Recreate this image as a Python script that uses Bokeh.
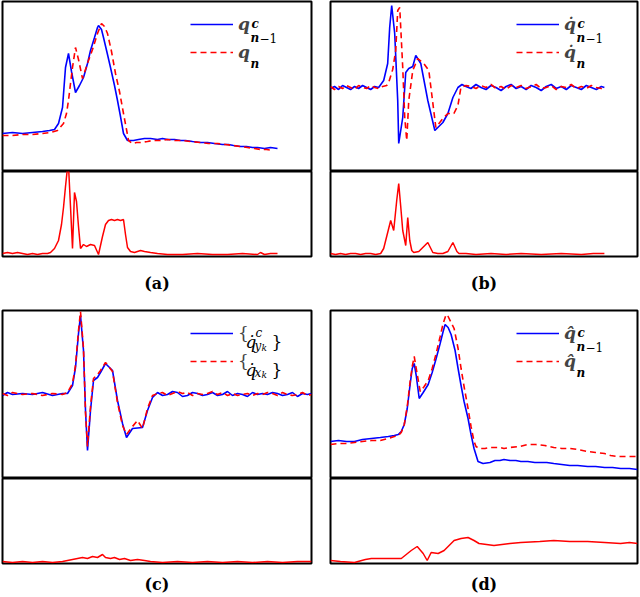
from bokeh.plotting import figure
from bokeh.layouts import row, column
from bokeh.models import Legend, LegendItem, Label, FixedTicker, Range1d
from bokeh.embed import file_html
from bokeh.resources import INLINE

# ---------------- data ----------------
# panel (a): positions q^c_{n-1} (blue) vs q_n (red), error below
a_blue_x = [0, 10, 20, 30, 40, 47, 52, 56, 60, 63, 66, 69, 73, 77, 81, 85, 88, 92, 95, 96, 99, 101, 105, 108, 112,
            115, 118, 121, 125, 131, 136, 142, 148, 155, 160, 165, 172, 178, 183, 190, 198, 205, 212, 220, 226, 231,
            238, 244, 250, 255, 262, 268, 275]
a_blue_y = [38, 39, 38, 39, 40, 41, 42, 48, 64, 104, 118, 100, 79, 86, 94, 108, 121, 134, 144, 146, 142, 134, 117, 104,
            86, 71, 55, 38, 31, 31, 32, 33, 33, 32, 33, 32, 32, 31, 31, 30, 29, 29, 28, 27, 27, 26, 25, 25, 24, 24, 23,
            24, 23]
a_red_x = [0, 10, 20, 30, 40, 48, 55, 61, 64, 66, 68, 70, 73, 76, 80, 83, 86, 90, 95, 99, 102, 105, 109, 113, 117, 121,
           124, 126, 130, 134, 138, 145, 150, 158, 165, 172, 180, 188, 198, 206, 215, 223, 231, 238, 245, 252, 258, 264,
           271]
a_red_y = [36, 36, 37, 37, 38, 39, 41, 48, 58, 71, 88, 104, 124, 112, 93, 102, 111, 122, 138, 148, 145, 138, 120, 98, 80,
           58, 42, 31, 28, 29, 29, 30, 31, 31, 32, 31, 31, 30, 29, 28, 28, 27, 26, 25, 24, 23, 22, 22, 21]
a_err_x = [0, 5, 10, 15, 20, 25, 30, 35, 40, 45, 48, 52, 56, 59, 61, 63, 65, 66, 68, 70, 72, 74, 76, 78, 81, 84, 88, 92,
           96, 100, 103, 106, 109, 112, 115, 118, 121, 123, 125, 128, 132, 138, 142, 148, 155, 165, 180, 195, 210, 225,
           240, 255, 258, 262, 268, 275]
a_err_y = [3, 4, 3, 4, 3, 2, 3, 2, 3, 3, 4, 8, 16, 32, 49, 70, 89, 91, 50, 8, 64, 55, 30, 8, 12, 10, 12, 11, 2, 20, 32,
           36, 37, 36, 37, 36, 37, 22, 9, 5, 4, 6, 5, 4, 3, 2, 2, 3, 2, 2, 3, 2, 4, 2, 3, 3]

# panel (b): velocities
b_blue_x = [0, 4, 8, 12, 16, 20, 24, 28, 32, 36, 40, 44, 48, 53, 57, 59, 61, 64, 67, 68, 72, 75, 78, 82, 85, 90, 97, 104,
            112, 117, 122, 127, 131, 135, 140, 145, 150, 155, 160, 165, 170, 175, 180, 185, 190, 195, 200, 205, 210,
            215, 220, 225, 230, 235, 240, 245, 250, 255, 260, 265, 270, 273]
b_blue_y = [83, 85, 82, 86, 84, 82, 85, 83, 86, 84, 82, 85, 84, 91, 108, 144, 166, 138, 71, 28, 54, 99, 103, 105, 116,
            108, 71, 41, 49, 58, 74, 84, 87, 85, 83, 87, 84, 82, 86, 84, 81, 85, 87, 83, 85, 82, 86, 84, 81, 85, 87, 83,
            85, 82, 86, 84, 82, 86, 84, 82, 85, 84]
b_red_x = [0, 4, 8, 12, 16, 20, 24, 28, 32, 36, 40, 44, 48, 52, 56, 58, 62, 65, 67, 69, 72, 74, 76, 78, 82, 87, 93, 98,
           105, 112, 117, 123, 127, 130, 135, 140, 145, 150, 155, 160, 165, 170, 175, 180, 185, 190, 195, 200, 205, 210,
           215, 220, 225, 230, 235, 240, 245, 250, 255, 260, 265, 270, 273]
b_red_y = [85, 82, 85, 83, 86, 84, 82, 86, 84, 83, 86, 84, 83, 85, 86, 89, 102, 121, 161, 164, 104, 54, 31, 71, 101, 113,
           108, 101, 44, 53, 58, 58, 66, 84, 86, 85, 83, 86, 84, 87, 83, 85, 82, 86, 84, 86, 83, 85, 87, 83, 84, 86, 82,
           85, 84, 87, 83, 85, 83, 86, 84, 83, 85]
b_err_x = [0, 5, 10, 15, 20, 25, 30, 35, 40, 45, 50, 53, 55, 58, 60, 63, 66, 68, 70, 72, 75, 77, 79, 81, 83, 88, 92, 97,
           102, 107, 112, 117, 122, 126, 128, 135, 145, 160, 175, 190, 210, 230, 250, 262, 273]
b_err_y = [3, 2, 3, 2, 3, 3, 2, 3, 3, 2, 3, 8, 16, 28, 36, 26, 56, 73, 50, 26, 11, 39, 16, 6, 4, 5, 9, 14, 4, 3, 3, 5,
           14, 5, 3, 3, 2, 3, 2, 3, 2, 3, 2, 3, 3]

# panel (c): velocity sequences
c_blue_x = [0, 5, 10, 20, 30, 40, 50, 60, 65, 70, 73, 76, 78, 81, 83, 85, 88, 91, 95, 98, 103, 110, 115, 120, 124, 130,
            140, 145, 150, 155, 160, 165, 170, 175, 180, 185, 190, 195, 200, 205, 210, 215, 220, 225, 230, 235, 240,
            245, 250, 255, 260, 265, 270, 275, 280, 285, 290, 295, 300, 305, 309]
c_blue_y = [83, 86, 84, 85, 84, 86, 83, 85, 85, 93, 111, 145, 163, 128, 68, 28, 68, 98, 101, 106, 115, 108, 78, 55, 41,
            50, 51, 68, 81, 86, 83, 84, 87, 86, 82, 83, 86, 85, 83, 84, 86, 83, 84, 87, 83, 85, 84, 82, 86, 84, 85, 84,
            86, 85, 83, 84, 86, 82, 85, 84, 85]
c_red_x = [0, 5, 10, 20, 30, 40, 50, 60, 65, 70, 73, 76, 78, 81, 83, 85, 88, 91, 95, 98, 103, 110, 115, 120, 124, 130,
           135, 140, 145, 150, 155, 160, 165, 170, 175, 180, 185, 190, 195, 200, 205, 210, 215, 220, 225, 230, 235,
           240, 245, 250, 255, 260, 265, 270, 275, 280, 285, 290, 295, 300, 305, 309]
c_red_y = [85, 83, 86, 84, 85, 83, 85, 84, 86, 95, 113, 148, 167, 130, 66, 32, 72, 100, 104, 108, 116, 107, 76, 53, 44,
           52, 58, 50, 70, 83, 85, 86, 83, 85, 87, 85, 86, 83, 85, 84, 85, 87, 84, 86, 83, 85, 83, 84, 85, 83, 85, 84,
           86, 85, 83, 86, 84, 83, 84, 86, 83, 84]
c_err_x = [0, 10, 20, 30, 40, 50, 60, 65, 70, 75, 80, 85, 90, 95, 100, 103, 108, 112, 117, 122, 128, 135, 142, 148, 160,
           175, 190, 205, 220, 235, 250, 265, 280, 295, 309]
c_err_y = [2, 1, 2, 1, 2, 1, 2, 3, 4, 5, 6, 5, 7, 6, 9, 6, 5, 6, 4, 5, 3, 4, 3, 2, 1, 2, 1, 2, 1, 2, 1, 2, 1, 2, 2]

# panel (d): hat positions
d_blue_x = [0, 8, 16, 24, 32, 41, 50, 58, 64, 68, 71, 74, 77, 80, 82, 84, 86, 89, 93, 98, 102, 106, 110, 113, 115, 118,
            121, 125, 128, 131, 134, 138, 141, 144, 148, 153, 160, 165, 170, 174, 180, 186, 191, 198, 205, 210, 217,
            224, 232, 240, 248, 258, 266, 275, 283, 291, 300, 308]
d_blue_y = [37, 38, 37, 37, 39, 40, 41, 42, 43, 44, 47, 54, 70, 95, 110, 115, 103, 80, 86, 94, 106, 120, 135, 147, 154,
            151, 144, 128, 110, 93, 77, 60, 44, 30, 17, 15, 16, 18, 18, 19, 18, 18, 17, 17, 16, 16, 16, 15, 14, 13, 13,
            12, 12, 11, 11, 10, 10, 9]
d_red_x = [0, 8, 16, 24, 32, 41, 50, 58, 64, 68, 71, 74, 77, 80, 82, 84, 86, 90, 94, 98, 102, 106, 110, 113, 116, 118,
           121, 124, 128, 131, 134, 138, 141, 144, 146, 149, 155, 160, 165, 170, 174, 180, 190, 198, 206, 215, 224,
           232, 240, 248, 258, 266, 275, 281, 288, 295, 302, 308]
d_red_y = [34, 35, 35, 36, 37, 38, 38, 40, 42, 43, 46, 54, 72, 98, 112, 122, 110, 87, 92, 98, 110, 125, 142, 155, 164,
           162, 156, 150, 130, 110, 92, 70, 52, 37, 32, 30, 30, 31, 31, 31, 30, 31, 32, 34, 34, 33, 31, 30, 30, 29, 27,
           26, 25, 23, 22, 22, 22, 22]
d_err_x = [0, 10, 24, 35, 41, 60, 71, 76, 81, 87, 93, 97, 101, 108, 114, 124, 131, 138, 144, 149, 164, 180, 191, 210,
           224, 240, 258, 275, 291, 300, 308]
d_err_y = [3, 2, 1, 4, 5, 5, 5, 9, 13, 17, 10, 3, 11, 10, 13, 23, 25, 26, 23, 20, 18, 20, 21, 22, 23, 22, 22, 21, 20,
           21, 20]

# axis extents of each box (same units as the values)
a_xmax, a_top_max, a_bot_max = 309, 170, 85
b_xmax, b_top_max, b_bot_max = 306, 170, 85
c_xmax, c_top_max, c_bot_max = 309, 168, 85
d_xmax, d_top_max, d_bot_max = 308, 168, 85

panel_labels = ["(a)", "(b)", "(c)", "(d)"]

# ---------------- styling ----------------
BLUE = "#0000ff"
RED = "#ff0000"
SERIF = "DejaVu Serif"
LBL_FROM_RIGHT = 72   # legend label start, px from frame right
YC1, YC2 = 24, 52     # legend line positions, px from frame top


def make_upper(xr, ymax, fw, fh, left, right, top):
    p = figure(frame_width=fw, frame_height=fh, x_range=xr, y_range=Range1d(0, ymax),
               x_axis_type=None, y_axis_type=None, toolbar_location=None, output_backend="svg",
               min_border_left=left, min_border_right=right, min_border_top=top, min_border_bottom=0)
    p.outline_line_color = "black"
    p.outline_line_width = 2
    p.background_fill_color = "white"
    p.border_fill_color = "white"
    return p


def make_lower(xr, ymax, fw, fh, left, right, bottom, label, standoff):
    p = figure(frame_width=fw, frame_height=fh, x_range=xr, y_range=Range1d(0, ymax),
               y_axis_type=None, toolbar_location=None, output_backend="svg",
               min_border_left=left, min_border_right=right, min_border_top=0, min_border_bottom=bottom)
    p.outline_line_color = "black"
    p.outline_line_width = 2
    p.xgrid.visible = False
    ax = p.xaxis[0]
    ax.ticker = FixedTicker(ticks=[])
    ax.axis_line_color = None
    ax.major_tick_line_color = None
    ax.minor_tick_line_color = None
    ax.major_tick_out = 0
    ax.major_label_standoff = 0
    ax.axis_label = label
    ax.axis_label_text_font = SERIF
    ax.axis_label_text_font_style = "bold"
    ax.axis_label_text_font_size = "16px"
    ax.axis_label_text_color = "black"
    ax.axis_label_standoff = standoff
    return p


def add_legend(p, r1, r2, lab1, lab2, style):
    leg = Legend(items=[LegendItem(label=lab1, renderers=[r1]), LegendItem(label=lab2, renderers=[r2])],
                 location="top_right", margin=10, padding=3, spacing=2,
                 glyph_width=43, glyph_height=20, label_height=26, label_width=63, label_standoff=5,
                 border_line_color=None, background_fill_alpha=0,
                 label_text_font=SERIF, label_text_font_style=style, label_text_font_size="17px")
    p.add_layout(leg)


def add_math(p, pieces, yc):
    for text, dx, dy, size, style in pieces:
        p.add_layout(Label(x=p.x_range.end, y=p.y_range.end,
                           x_offset=-(LBL_FROM_RIGHT - dx), y_offset=-(yc + dy),
                           text=text, text_font=SERIF, text_font_size=f"{size}px",
                           text_font_style=style, text_baseline="alphabetic", text_align="left",
                           text_color="black"))


def panel(xmax, top_max, bot_max, bx, by, rx, ry, ex, ey, fw, top_h, left, right, bottom, label, standoff):
    xr = Range1d(0, xmax)
    up = make_upper(xr, top_max, fw, top_h, left, right, 1)
    r1 = up.line(bx, by, line_color=BLUE, line_width=1.6)
    r2 = up.line(rx, ry, line_color=RED, line_width=1.6, line_dash="6 4")
    lo = make_lower(xr, bot_max, fw, 85, left, right, bottom, label, standoff)
    lo.line(ex, ey, line_color=RED, line_width=1.5)
    return up, lo, r1, r2


up_a, lo_a, ra1, ra2 = panel(a_xmax, a_top_max, a_bot_max, a_blue_x, a_blue_y, a_red_x, a_red_y,
                             a_err_x, a_err_y, 309, 170, 2, 9, 53, panel_labels[0], 17)
up_b, lo_b, rb1, rb2 = panel(b_xmax, b_top_max, b_bot_max, b_blue_x, b_blue_y, b_red_x, b_red_y,
                             b_err_x, b_err_y, 307, 170, 10, 3, 53, panel_labels[1], 17)
up_c, lo_c, rc1, rc2 = panel(c_xmax, c_top_max, c_bot_max, c_blue_x, c_blue_y, c_red_x, c_red_y,
                             c_err_x, c_err_y, 309, 168, 2, 9, 33, panel_labels[2], 11)
up_d, lo_d, rd1, rd2 = panel(d_xmax, d_top_max, d_bot_max, d_blue_x, d_blue_y, d_red_x, d_red_y,
                             d_err_x, d_err_y, 307, 168, 10, 3, 33, panel_labels[3], 11)

BI = "bold italic"
SUP_SUB = [("c", 12, -2, 12, BI), ("n", 11, 12, 12, BI), ("\u22121", 20, 12, 12, "normal")]
SUB_ONLY = [("n", 11, 10, 12, BI)]
# (a)
add_legend(up_a, ra1, ra2, "q", "q", BI)
add_math(up_a, SUP_SUB, YC1)
add_math(up_a, SUB_ONLY, YC2)
# (b)
add_legend(up_b, rb1, rb2, "q\u0307", "q\u0307", BI)
add_math(up_b, SUP_SUB, YC1)
add_math(up_b, SUB_ONLY, YC2)
# (c)
add_legend(up_c, rc1, rc2, "{", "{", "normal")
add_math(up_c, [("q\u0307", 6, 7, 17, "italic"), ("c", 16, -2, 12, "italic"), ("y", 15, 11, 12, "italic"),
                ("k", 22, 13, 9, "italic"), ("}", 32, 7, 17, "normal")], YC1)
add_math(up_c, [("q\u0307", 6, 7, 17, "italic"), ("x", 15, 10, 12, "italic"),
                ("k", 22, 12, 9, "italic"), ("}", 32, 7, 17, "normal")], YC2)
# (d)
add_legend(up_d, rd1, rd2, "q\u0302", "q\u0302", BI)
add_math(up_d, SUP_SUB, YC1)
add_math(up_d, SUB_ONLY, YC2)

layout = column(row(column(up_a, lo_a), column(up_b, lo_b)),
                row(column(up_c, lo_c), column(up_d, lo_d)))

open("out.html", "w").write(file_html(layout, INLINE))
